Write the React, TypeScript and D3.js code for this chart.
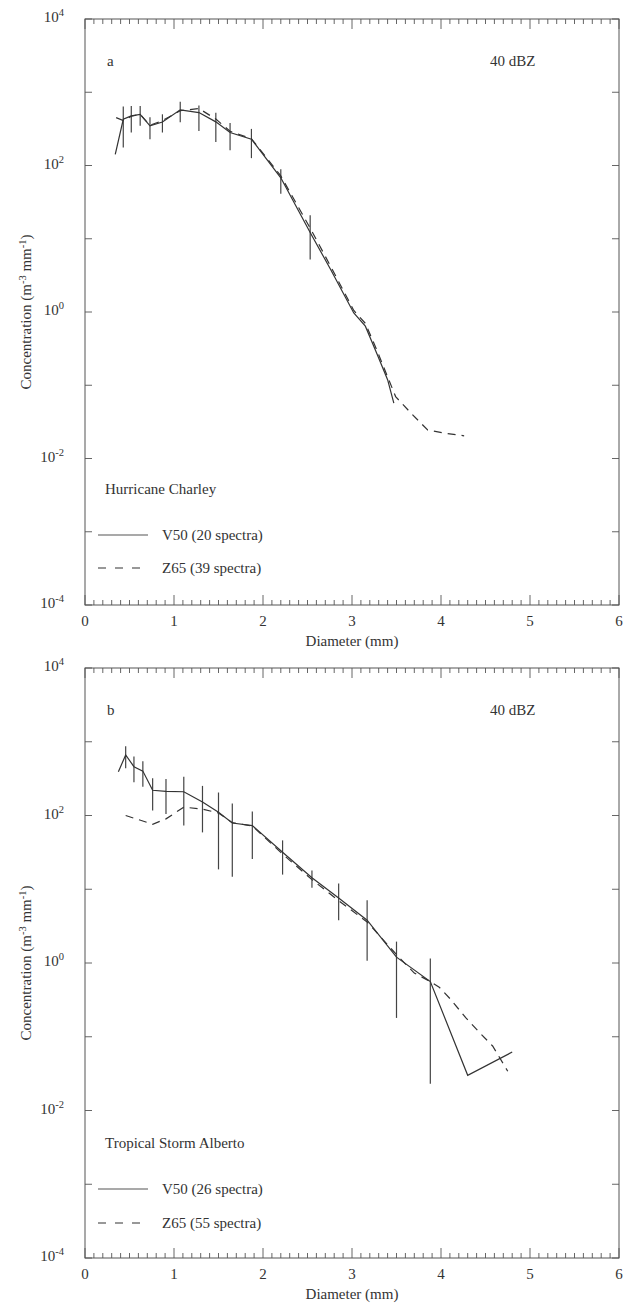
import React from 'react';
import * as d3 from 'd3';

// axis ticks
const xMajor = [0, 1, 2, 3, 4, 5, 6];
const yLabelExp = [4, 2, 0, -2, -4];

// panel a: Hurricane Charley
const diamV50a = [0.34, 0.43, 0.52, 0.62, 0.73, 0.87, 1.07, 1.28, 1.47, 1.63, 1.87, 2.2, 2.53, 2.76, 3.02, 3.15, 3.28, 3.4, 3.47];
const concV50a = [142, 428, 475, 500, 347, 393, 575, 528, 394, 282, 229, 68, 12.2, 3.8, 0.97, 0.64, 0.27, 0.119, 0.057];
const diamZ65a = [0.35, 0.43, 0.52, 0.62, 0.73, 0.87, 1.07, 1.28, 1.47, 1.63, 1.87, 2.2, 2.53, 2.76, 3.02, 3.15, 3.28, 3.49, 3.66, 3.85, 4.03, 4.26];
const concZ65a = [450, 410, 470, 500, 355, 410, 560, 600, 430, 294, 232, 72, 14, 4.2, 1.05, 0.7, 0.3, 0.07, 0.042, 0.0245, 0.0223, 0.0204];
const errDiamA = [0.43, 0.52, 0.62, 0.73, 0.87, 1.07, 1.28, 1.47, 1.63, 1.87, 2.2, 2.53];
const errLoA = [176, 282, 350, 229, 282, 389, 295, 209, 162, 126, 41, 5.2];
const errHiA = [640, 650, 650, 457, 500, 741, 660, 525, 380, 316, 89, 21];

// panel b: Tropical Storm Alberto
const diamV50b = [0.375, 0.457, 0.55, 0.65, 0.76, 0.91, 1.11, 1.32, 1.5, 1.655, 1.88, 2.22, 2.55, 2.85, 3.17, 3.5, 3.88, 4.3, 4.8];
const concV50b = [391, 663, 459, 400, 220, 213, 210, 152, 111, 79, 73, 31.7, 14.3, 7.6, 3.8, 1.2, 0.56, 0.03, 0.062];
const diamZ65b = [0.457, 0.6, 0.76, 0.91, 1.11, 1.32, 1.5, 1.655, 1.88, 2.22, 2.55, 2.85, 3.17, 3.5, 3.7, 3.88, 3.98, 4.11, 4.28, 4.43, 4.58, 4.75];
const concZ65b = [100, 88, 76, 90, 130, 122, 108, 80, 72, 30, 13.5, 7.0, 3.6, 1.3, 0.73, 0.56, 0.47, 0.32, 0.18, 0.115, 0.075, 0.034];
const errDiamB = [0.457, 0.55, 0.65, 0.76, 0.91, 1.11, 1.32, 1.5, 1.655, 1.88, 2.22, 2.55, 2.85, 3.17, 3.5, 3.88];
const errLoB = [436, 283, 245, 117, 105, 73, 59, 18.6, 14.8, 25.7, 15.8, 10.5, 3.8, 1.07, 0.18, 0.023];
const errHiB = [870, 630, 545, 320, 312, 334, 252, 205, 145, 113, 46, 18, 12, 7.1, 1.95, 1.15];

const L = 85;
const R = 619;
const FONT = '"Liberation Serif", "Times New Roman", serif';
const FS = 15;

function Pow({ x, y, exp }: { x: number; y: number; exp: number }) {
  return (
    <text x={x} y={y} textAnchor="end" fontSize={FS} fill="#333">
      10<tspan dy={-6} fontSize={10.5}>{exp}</tspan>
    </text>
  );
}

function Panel(props: any) {
  const { top, bottom, letter, storm, v50Label, z65Label, dV, cV, dZ, cZ, eD, eLo, eHi, stormY, leg1Y, leg2Y } = props;
  const x = d3.scaleLinear().domain([0, 6]).range([L, R]);
  const y = d3.scaleLog().domain([1e-4, 1e4]).range([bottom, top]);
  const line = d3.line<[number, number]>().x(d => x(d[0])).y(d => y(d[1]));
  const minor = d3.range(0, 61).map(i => i / 10);
  const decades = d3.range(-4, 5);
  const midY = (top + bottom) / 2;
  return (
    <g fontFamily={FONT}>
      <rect x={L} y={top} width={R - L} height={bottom - top} fill="none" stroke="#555" strokeWidth={1} />
      {minor.map((t, i) => {
        const len = i % 10 === 0 ? 10 : 5;
        return (
          <g key={'mx' + i} stroke="#555" strokeWidth={0.9}>
            <line x1={x(t)} x2={x(t)} y1={bottom} y2={bottom - len} />
            <line x1={x(t)} x2={x(t)} y1={top} y2={top + len} />
          </g>
        );
      })}
      {decades.map(e => (
        <g key={'yt' + e} stroke="#555" strokeWidth={0.9}>
          <line x1={L} x2={L + 7} y1={y(Math.pow(10, e))} y2={y(Math.pow(10, e))} />
          <line x1={R} x2={R - 7} y1={y(Math.pow(10, e))} y2={y(Math.pow(10, e))} />
        </g>
      ))}
      {yLabelExp.map(e => (
        <Pow key={'yl' + e} x={64} y={y(Math.pow(10, e)) + 3} exp={e} />
      ))}
      {xMajor.map(t => (
        <text key={'xl' + t} x={x(t)} y={bottom + 21} textAnchor="middle" fontSize={FS} fill="#333">{t}</text>
      ))}
      <text x={(L + R) / 2} y={bottom + 41} textAnchor="middle" fontSize={FS} fill="#333">Diameter (mm)</text>
      <text transform={`translate(31, ${midY}) rotate(-90)`} textAnchor="middle" fontSize={FS} fill="#333">
        Concentration (m<tspan dy={-5} fontSize={10.5}>-3</tspan><tspan dy={5}> mm</tspan><tspan dy={-5} fontSize={10.5}>-1</tspan><tspan dy={5}>)</tspan>
      </text>
      <text x={107} y={top + 47} fontSize={FS} fill="#333">{letter}</text>
      <text x={490} y={top + 47} fontSize={FS} fill="#333">40 dBZ</text>
      {eD.map((d: number, i: number) => (
        <line key={'e' + i} x1={x(d)} x2={x(d)} y1={y(eLo[i])} y2={y(eHi[i])} stroke="#444" strokeWidth={1.2} />
      ))}
      <path d={line(d3.zip(dZ, cZ) as any) || ''} fill="none" stroke="#333" strokeWidth={1.2} strokeDasharray="8,6" />
      <path d={line(d3.zip(dV, cV) as any) || ''} fill="none" stroke="#333" strokeWidth={1.2} />
      <text x={105} y={stormY} fontSize={FS} fill="#333">{storm}</text>
      <line x1={98} x2={148} y1={leg1Y - 5} y2={leg1Y - 5} stroke="#555" strokeWidth={1.2} />
      <text x={162} y={leg1Y} fontSize={FS} fill="#333">{v50Label}</text>
      <line x1={98} x2={148} y1={leg2Y - 5} y2={leg2Y - 5} stroke="#333" strokeWidth={1.2} strokeDasharray="8,9" />
      <text x={162} y={leg2Y} fontSize={FS} fill="#333">{z65Label}</text>
    </g>
  );
}

export default function App() {
  return (
    <div style={{ position: 'absolute', left: 0, top: 0 }}>
      <svg width={626} height={1306} style={{ display: 'block', background: '#fff' }}>
        <Panel top={19} bottom={605} letter="a" storm="Hurricane Charley"
          v50Label="V50 (20 spectra)" z65Label="Z65 (39 spectra)"
          dV={diamV50a} cV={concV50a} dZ={diamZ65a} cZ={concZ65a}
          eD={errDiamA} eLo={errLoA} eHi={errHiA}
          stormY={494} leg1Y={540} leg2Y={573} />
        <Panel top={668} bottom={1258} letter="b" storm="Tropical Storm Alberto"
          v50Label="V50 (26 spectra)" z65Label="Z65 (55 spectra)"
          dV={diamV50b} cV={concV50b} dZ={diamZ65b} cZ={concZ65b}
          eD={errDiamB} eLo={errLoB} eHi={errHiB}
          stormY={1148} leg1Y={1194} leg2Y={1228} />
      </svg>
    </div>
  );
}
